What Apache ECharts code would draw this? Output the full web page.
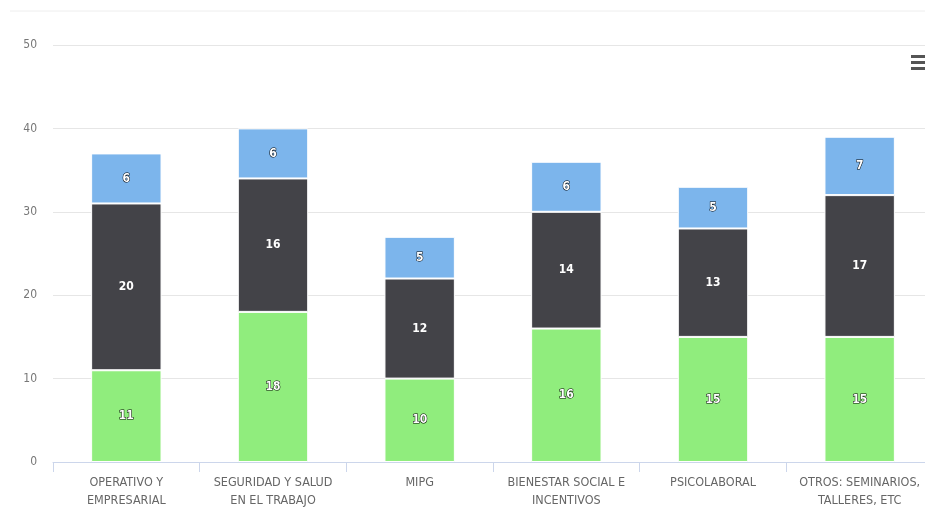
<!DOCTYPE html>
<html><head><meta charset="utf-8">
<script src="https://cdn.jsdelivr.net/npm/echarts@6/dist/echarts.min.js"></script>
<style>html,body{margin:0;padding:0;background:#fff;overflow:hidden}#c{width:933px;height:510px}</style>
</head><body><div id="c"></div>
<script>
const categories = ['OPERATIVO Y\nEMPRESARIAL','SEGURIDAD Y SALUD\nEN EL TRABAJO','MIPG','BIENESTAR SOCIAL E\nINCENTIVOS','PSICOLABORAL','OTROS: SEMINARIOS,\nTALLERES, ETC'];
const greenValues = [11,18,10,16,15,15];
const darkValues = [20,16,12,14,13,17];
const blueValues = [6,6,5,6,5,7];
const yTicks = [0,10,20,30,40,50];

const labelStyle = {show:true, position:'inside', color:'#fff', fontSize:12, fontWeight:'bold', fontFamily:'DejaVu Sans Condensed', textBorderColor:'#000', textBorderWidth:1};
function series(name, data, color, dark){
  return {name, type:'bar', stack:'a', data, barWidth:'48%',
    itemStyle:{color, borderColor:'#fff', borderWidth:1},
    label: dark ? Object.assign({}, labelStyle, {textBorderWidth:0}) : labelStyle};
}
const chart = echarts.init(document.getElementById('c'));
chart.setOption({
  animation:false,
  grid:{left:53, right:0, top:45, bottom:48},
  xAxis:{type:'category', data:categories,
    axisLine:{lineStyle:{color:'#ccd6eb'}},
    axisTick:{show:true, interval:0, alignWithLabel:false, length:10, lineStyle:{color:'#ccd6eb'}},
    axisLabel:{interval:0, color:'#666', fontSize:12.5, fontFamily:'DejaVu Sans Condensed', lineHeight:18, margin:12}},
  yAxis:{type:'value', min:0, max:50, interval:10,
    axisLabel:{color:'#777', fontSize:12, fontFamily:'DejaVu Sans Condensed', margin:16,
      formatter: v => yTicks.includes(v) ? String(v) : ''},
    splitLine:{lineStyle:{color:'#e6e6e6'}}},
  series:[
    series('Green', greenValues, '#90ed7d', false),
    series('Dark', darkValues, '#434348', true),
    series('Blue', blueValues, '#7cb5ec', false)
  ],
  graphic:[
    {type:'line', shape:{x1:10,y1:11,x2:925,y2:11}, style:{stroke:'#eeeeee', lineWidth:1}},
    {type:'rect', shape:{x:911,y:55,width:14,height:3}, style:{fill:'#555'}},
    {type:'rect', shape:{x:911,y:61,width:14,height:3}, style:{fill:'#555'}},
    {type:'rect', shape:{x:911,y:67,width:14,height:3}, style:{fill:'#555'}}
  ]
});
</script></body></html>
